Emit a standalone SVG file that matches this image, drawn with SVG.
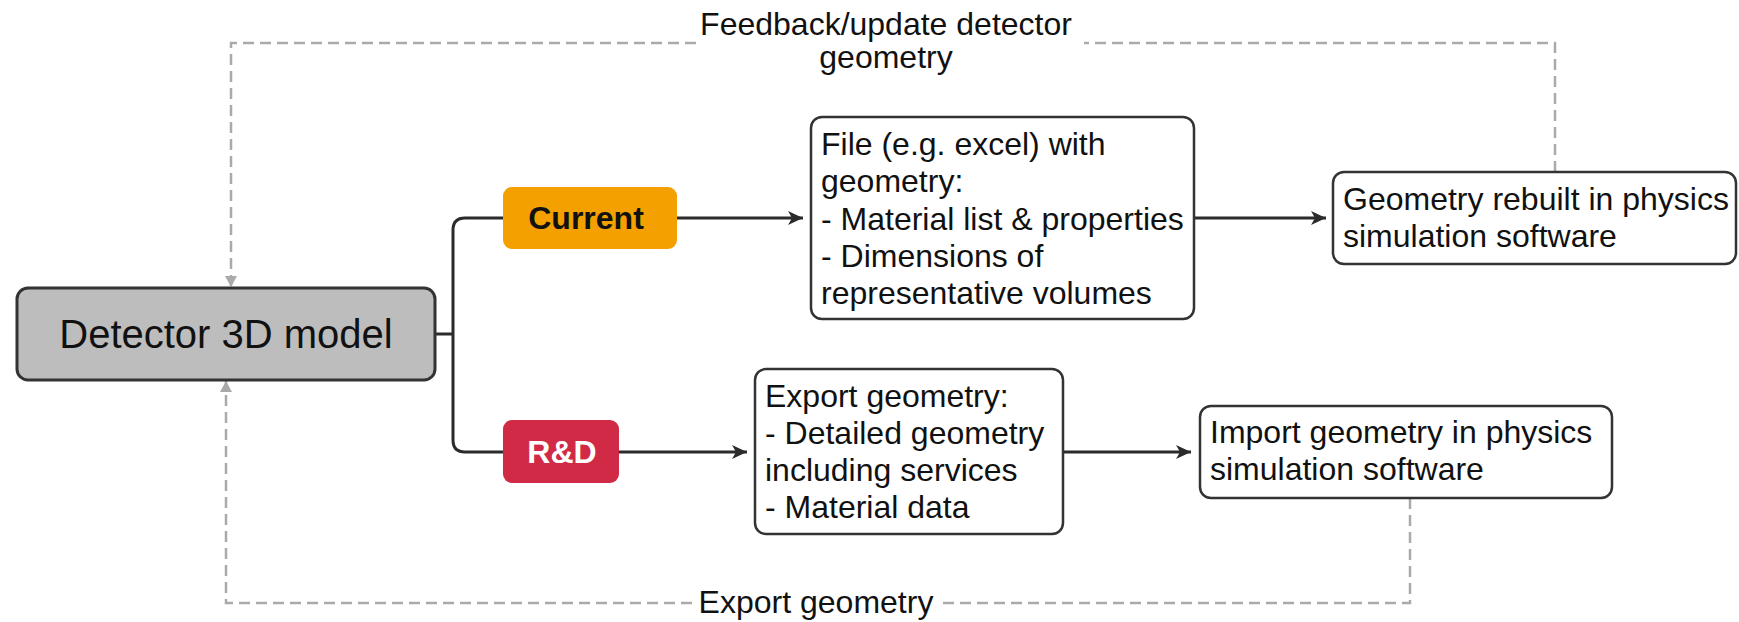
<svg xmlns="http://www.w3.org/2000/svg" width="1739" height="622" viewBox="0 0 1739 622">
<style>
.box{fill:#fff;stroke:#333;stroke-width:2.5}
.t{font-family:"Liberation Sans",Arial,sans-serif;font-size:32px;fill:#111}
.b{font-family:"Liberation Sans",Arial,sans-serif;font-size:32px;font-weight:bold}
.con{fill:none;stroke:#2b2b2b;stroke-width:3}
.dash{fill:none;stroke:#aaa;stroke-width:2.5;stroke-dasharray:11 6}
</style>
<defs>
<marker id="ah" markerUnits="userSpaceOnUse" markerWidth="16" markerHeight="14" refX="15" refY="7" orient="auto">
<path d="M0,0 L15,7 L0,14 L4,7 z" fill="#2b2b2b"/>
</marker>
<marker id="gh" markerUnits="userSpaceOnUse" markerWidth="12" markerHeight="12" refX="11" refY="6" orient="auto">
<path d="M0,0 L11,6 L0,12 z" fill="#aaa"/>
</marker>
</defs>
<g id="connectors">
<path class="con" d="M435,334 H453"/>
<path class="con" d="M503,218 H465 Q453,218 453,230 V440 Q453,452 465,452 H503"/>
<path class="con" d="M677,218 H803" marker-end="url(#ah)"/>
<path class="con" d="M1194,218 H1326" marker-end="url(#ah)"/>
<path class="con" d="M619,452 H747" marker-end="url(#ah)"/>
<path class="con" d="M1063,452 H1191" marker-end="url(#ah)"/>
<path class="dash" d="M1555,172 V43 H1084"/>
<path class="dash" d="M696,43 H231 V287" marker-end="url(#gh)"/>
<text class="t" x="886" y="35" text-anchor="middle">Feedback/update detector</text>
<text class="t" x="886" y="68" text-anchor="middle">geometry</text>
<path class="dash" d="M1410,498 V603 H940"/>
<path class="dash" d="M692,603 H226 V381" marker-end="url(#gh)"/>
<text class="t" x="816" y="613" text-anchor="middle">Export geometry</text>
</g>
<g id="detector">
<rect x="17" y="288" width="418" height="92" rx="11" fill="#bdbdbd" stroke="#333" stroke-width="3"/>
<text class="t" x="226" y="348" text-anchor="middle" style="font-size:40px">Detector 3D model</text>
</g>
<g id="current">
<rect x="503" y="187" width="174" height="62" rx="9" fill="#f4a000"/>
<text class="b" x="586" y="229" text-anchor="middle" fill="#111">Current</text>
</g>
<g id="rnd">
<rect x="503" y="420" width="116" height="63" rx="9" fill="#d02a47"/>
<text class="b" x="562" y="463" text-anchor="middle" fill="#fff">R&amp;D</text>
</g>
<g id="file">
<rect class="box" x="811" y="117" width="383" height="202" rx="11"/>
<text class="t" x="821" y="155">File (e.g. excel) with</text>
<text class="t" x="821" y="192">geometry:</text>
<text class="t" x="821" y="230">- Material list &amp; properties</text>
<text class="t" x="821" y="267">- Dimensions of</text>
<text class="t" x="821" y="304">representative volumes</text>
</g>
<g id="rebuilt">
<rect class="box" x="1333" y="172" width="403" height="92" rx="11"/>
<text class="t" x="1343" y="210">Geometry rebuilt in physics</text>
<text class="t" x="1343" y="247">simulation software</text>
</g>
<g id="export">
<rect class="box" x="755" y="369" width="308" height="165" rx="11"/>
<text class="t" x="765" y="407">Export geometry:</text>
<text class="t" x="765" y="444">- Detailed geometry</text>
<text class="t" x="765" y="481">including services</text>
<text class="t" x="765" y="518">- Material data</text>
</g>
<g id="import">
<rect class="box" x="1200" y="406" width="412" height="92" rx="11"/>
<text class="t" x="1210" y="443">Import geometry in physics</text>
<text class="t" x="1210" y="480">simulation software</text>
</g>
</svg>
